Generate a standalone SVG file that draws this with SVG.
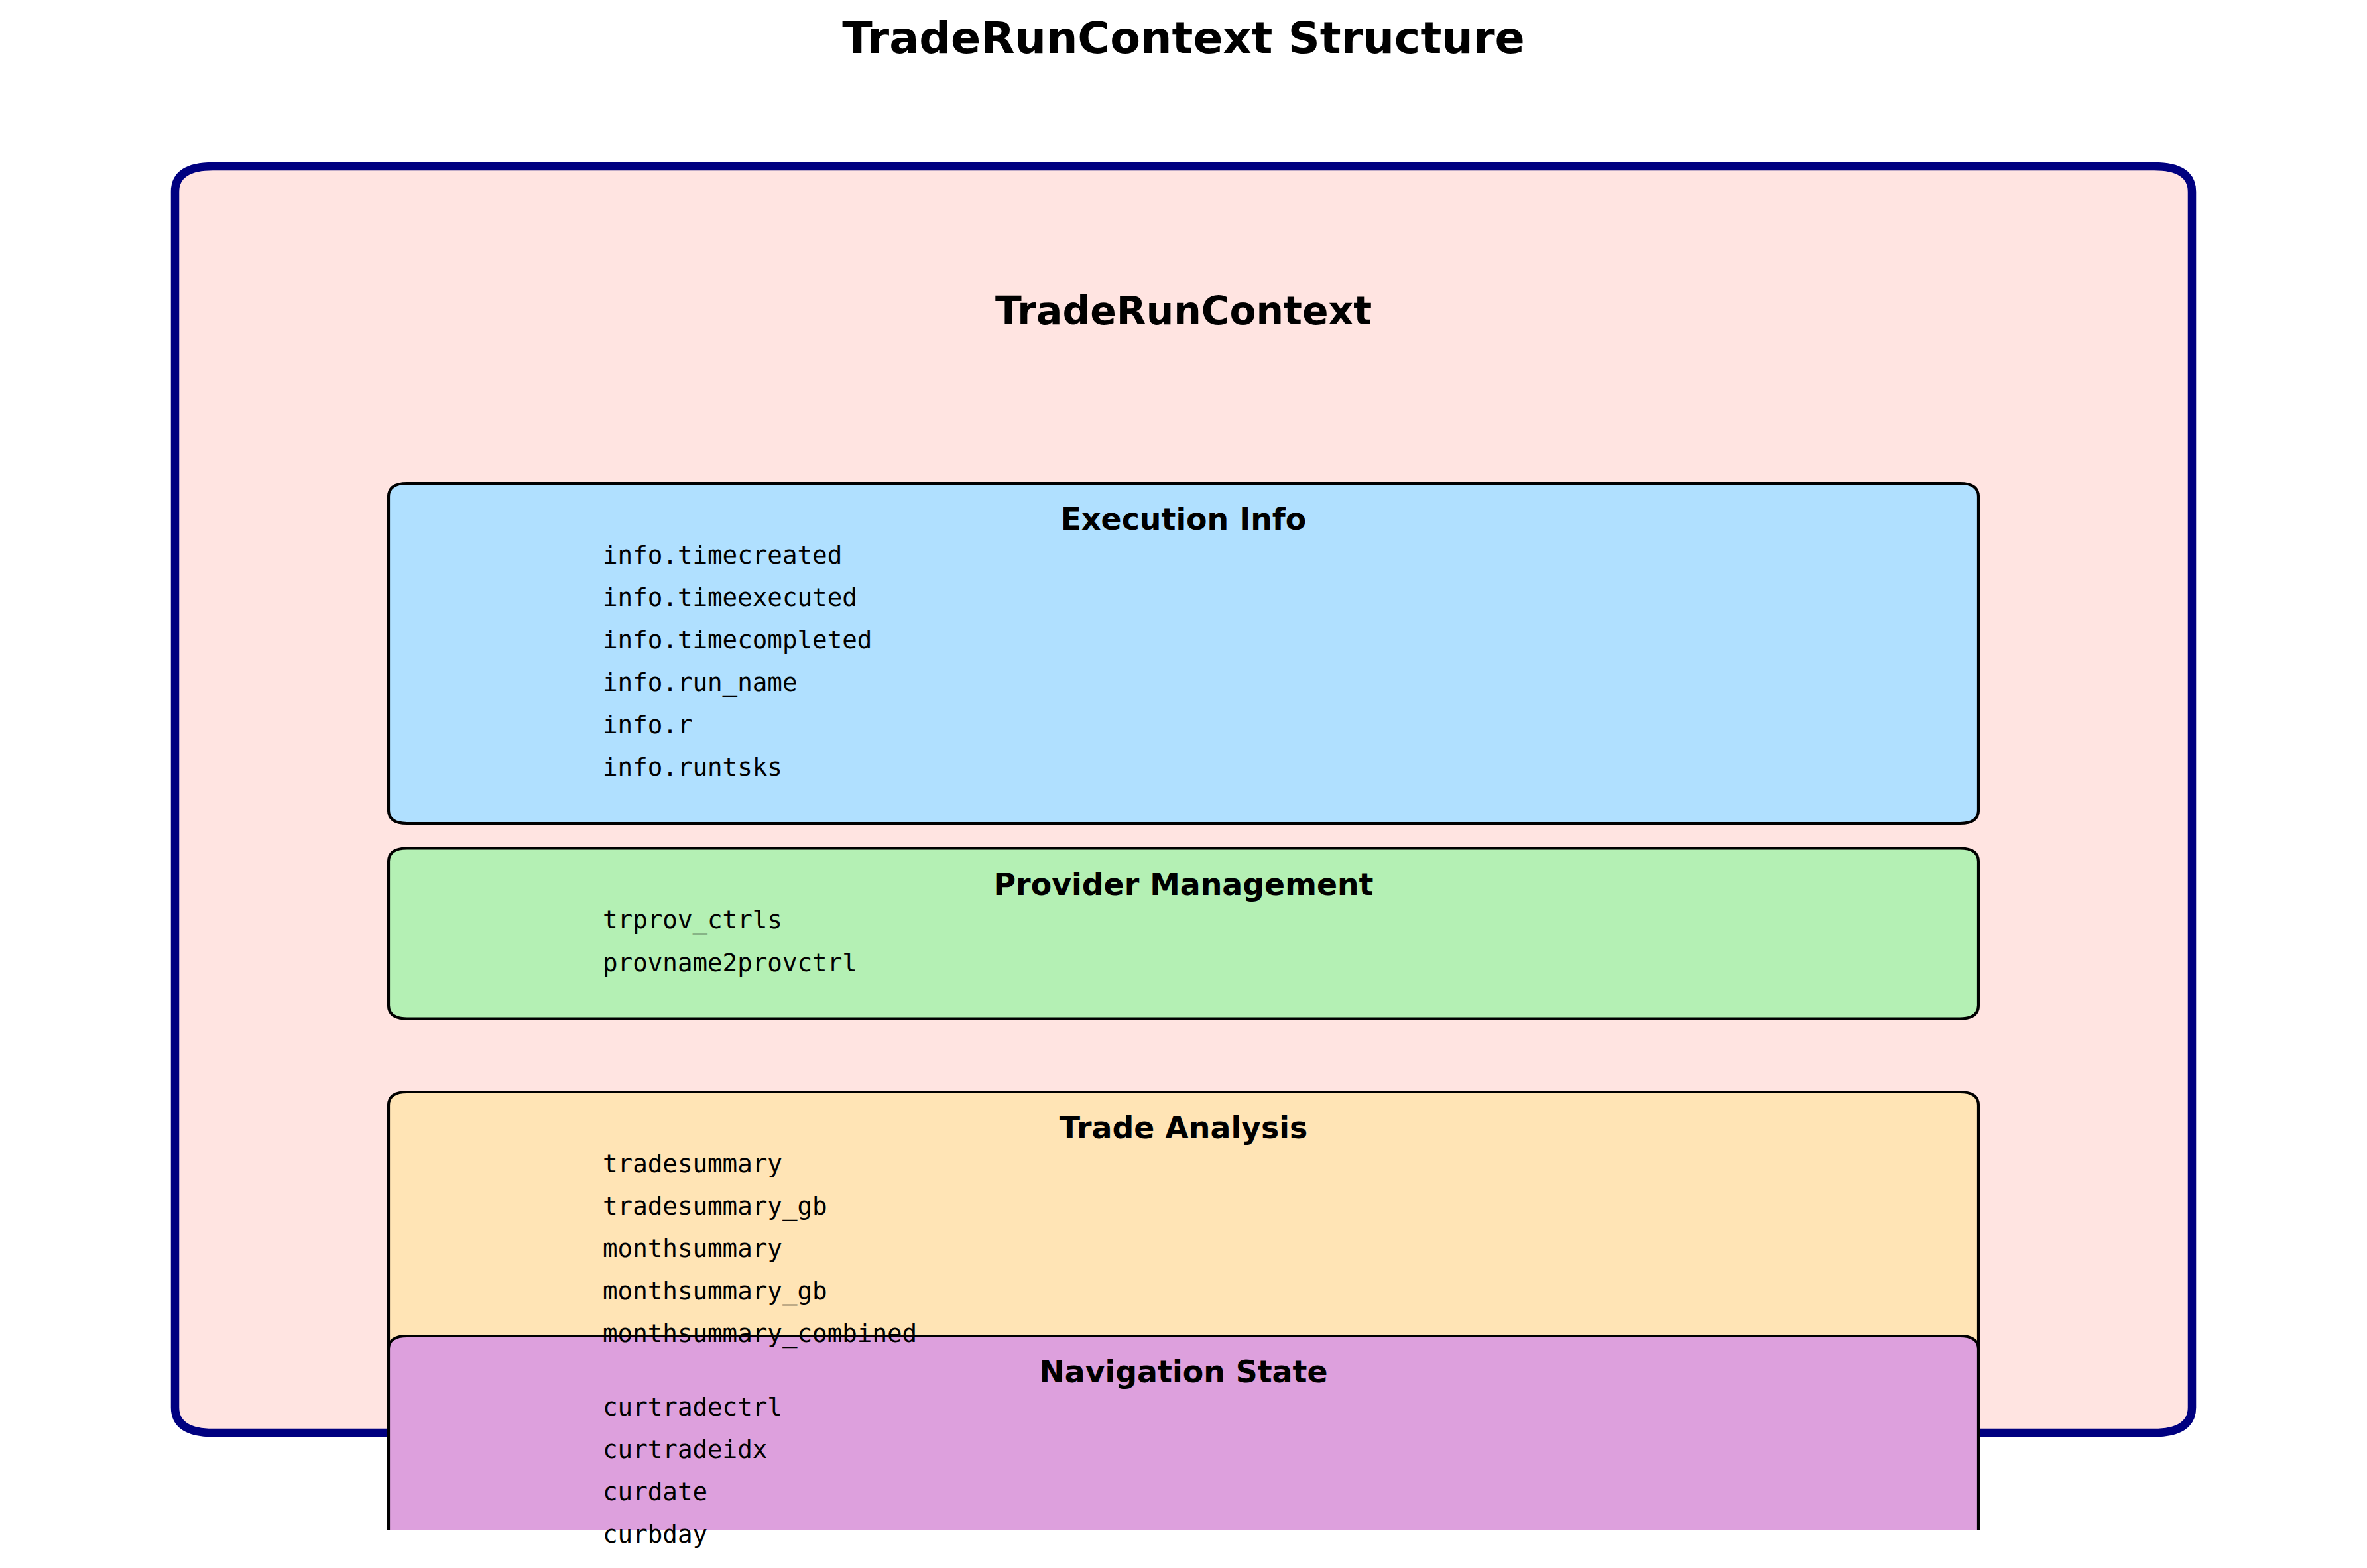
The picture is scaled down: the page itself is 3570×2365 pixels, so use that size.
<svg xmlns="http://www.w3.org/2000/svg" width="3570" height="2365" viewBox="0 0 3570 2365">
<style>
.title{font-family:"DejaVu Sans",sans-serif;font-weight:bold;font-size:66.67px;fill:#000;text-anchor:middle}
.main{font-family:"DejaVu Sans",sans-serif;font-weight:bold;font-size:58.33px;fill:#000;text-anchor:middle}
.hdr{font-family:"DejaVu Sans",sans-serif;font-weight:bold;font-size:45.83px;fill:#000;text-anchor:middle}
.item{font-family:"DejaVu Sans Mono",monospace;font-size:37.5px;fill:#000}
.sec{stroke:#000;stroke-width:4.2;stroke-linejoin:round}
</style>
<defs>
<clipPath id="axclip"><rect x="0" y="0" width="3570" height="2307"/></clipPath>
</defs>
<rect x="0" y="0" width="3570" height="2365" fill="#ffffff"/>
<text class="title" x="1785" y="80">TradeRunContext Structure</text>
<g id="trade-run-context">
<path d="M321,251 H3249 Q3306,251 3306,289 V2123 Q3306,2161 3249,2161 H321 Q264,2161 264,2123 V289 Q264,251 321,251 Z" fill="#FFE4E1" stroke="#000080" stroke-width="12.5"/>
<text class="main" x="1785" y="489">TradeRunContext</text>
</g>
<g id="execution-info">
<path class="sec" fill="#B0E0FF" d="M614,729 H2956 Q2984,729 2984,749 V1222 Q2984,1242 2956,1242 H614 Q586,1242 586,1222 V749 Q586,729 614,729 Z"/>
<text class="hdr" x="1785" y="799">Execution Info</text>
<text class="item" x="909" y="850">info.timecreated</text>
<text class="item" x="909" y="914">info.timeexecuted</text>
<text class="item" x="909" y="978">info.timecompleted</text>
<text class="item" x="909" y="1042">info.run_name</text>
<text class="item" x="909" y="1106">info.r</text>
<text class="item" x="909" y="1170">info.runtsks</text>
</g>
<g id="provider-management">
<path class="sec" fill="#B4F0B4" d="M614,1279.5 H2956 Q2984,1279.5 2984,1299.5 V1516.5 Q2984,1536.5 2956,1536.5 H614 Q586,1536.5 586,1516.5 V1299.5 Q586,1279.5 614,1279.5 Z"/>
<text class="hdr" x="1785" y="1350">Provider Management</text>
<text class="item" x="909" y="1400">trprov_ctrls</text>
<text class="item" x="909" y="1465">provname2provctrl</text>
</g>
<g id="trade-analysis">
<path class="sec" fill="#FFE4B5" d="M614,1647 H2956 Q2984,1647 2984,1667 V2076 Q2984,2096 2956,2096 H614 Q586,2096 586,2076 V1667 Q586,1647 614,1647 Z"/>
<text class="hdr" x="1785" y="1717">Trade Analysis</text>
</g>
<g id="navigation-state">
<path class="sec" fill="#DDA0DD" clip-path="url(#axclip)" d="M614,2015 H2956 Q2984,2015 2984,2035 V2380 Q2984,2400 2956,2400 H614 Q586,2400 586,2380 V2035 Q586,2015 614,2015 Z"/>
<text class="hdr" x="1785" y="2085">Navigation State</text>
<text class="item" x="909" y="2135">curtradectrl</text>
<text class="item" x="909" y="2199">curtradeidx</text>
<text class="item" x="909" y="2263">curdate</text>
<text class="item" x="909" y="2327">curbday</text>
</g>
<g id="trade-analysis-items">
<text class="item" x="909" y="1768">tradesummary</text>
<text class="item" x="909" y="1832">tradesummary_gb</text>
<text class="item" x="909" y="1896">monthsummary</text>
<text class="item" x="909" y="1960">monthsummary_gb</text>
<text class="item" x="909" y="2024">monthsummary_combined</text>
</g>
<g id="connectors"/>
</svg>
